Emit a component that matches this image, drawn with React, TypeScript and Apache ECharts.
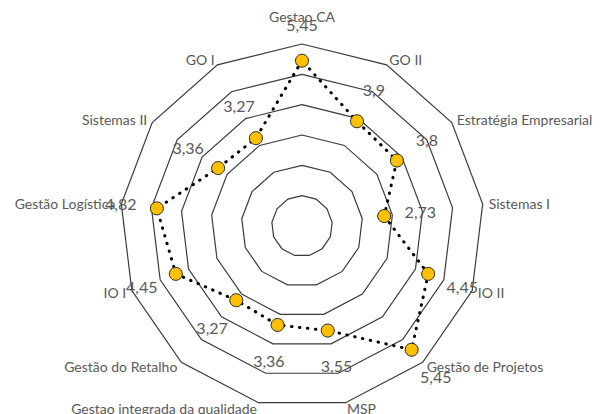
import React, { useEffect, useRef } from "react";
import * as echarts from "echarts";

// Indicators in reading (clockwise) order, starting at the top
const INDICATORS: string[] = [
  "Gestao CA",
  "GO II",
  "Estratégia Empresarial",
  "Sistemas I",
  "IO II",
  "Gestão de Projetos",
  "MSP",
  "Gestao integrada da qualidade",
  "Gestão do Retalho",
  "IO I",
  "Gestão Logística",
  "Sistemas II",
  "GO I",
];
const VALUES: number[] = [5.45, 3.9, 3.8, 2.73, 4.45, 5.45, 3.55, 3.36, 3.27, 4.45, 4.82, 3.36, 3.27];
const AXIS_MIN = 0;
const AXIS_MAX = 6;
const SPLITS = 6;
const LABEL_OFFSET = 1.2; // value labels sit this many units further out along each axis

const TEXT = "#595959";
const FONT = "Lato";

const fmt = (v: number) => String(Number(v.toFixed(2))).replace(".", ",");

export default function App() {
  const ref = useRef<HTMLDivElement>(null);
  useEffect(() => {
    if (!ref.current) return;
    const chart = echarts.init(ref.current, undefined, { renderer: "svg" });
    // ECharts places radar indicators counter-clockwise; reorder so the picture reads clockwise
    const order = [0, ...INDICATORS.map((_, i) => i).slice(1).reverse()];
    const option: any = {
      animation: false,
      backgroundColor: "#ffffff",
      radar: {
        center: [302, 226],
        radius: 182,
        startAngle: 90,
        shape: "polygon",
        splitNumber: SPLITS,
        nameGap: 6,
        indicator: order.map((i) => ({ name: INDICATORS[i], min: AXIS_MIN, max: AXIS_MAX })),
        axisName: {
          color: TEXT,
          fontFamily: FONT,
          fontSize: 14,
          formatter: (n: string) => (n === INDICATORS[0] ? `{top|${n}}` : n),
          rich: {
            top: { color: TEXT, fontFamily: FONT, fontSize: 14, padding: [0, 0, 15, 0] },
          },
        },
        splitLine: { lineStyle: { color: "#3a3a3a", width: 1.2 } },
        splitArea: { show: false },
        axisLine: { show: false },
        axisTick: { show: false },
        axisLabel: { show: false },
      },
      series: [
        {
          type: "radar",
          z: 3,
          symbol: "circle",
          symbolSize: 13,
          data: [{ value: order.map((i) => VALUES[i]) }],
          lineStyle: { color: "#000000", width: 3, type: [0.5, 7.5], cap: "round" },
          itemStyle: { color: "#FFC000", borderColor: "#262626", borderWidth: 1 },
          label: { show: false },
        },
        {
          type: "radar",
          z: 4,
          silent: true,
          symbol: "circle",
          symbolSize: 1,
          data: [{ value: order.map((i) => VALUES[i] + LABEL_OFFSET) }],
          lineStyle: { width: 0, opacity: 0 },
          itemStyle: { color: "rgba(0,0,0,0)" },
          label: {
            show: true,
            position: "inside",
            color: TEXT,
            fontFamily: FONT,
            fontSize: 16,
            formatter: (p: any) => {
              const v = Array.isArray(p.value) ? p.value[p.dimensionIndex ?? 0] : p.value;
              return fmt(Number(v) - LABEL_OFFSET);
            },
          },
        },
      ],
    };
    chart.setOption(option);
    return () => chart.dispose();
  }, []);
  return (
    <div
      ref={ref}
      style={{ position: "fixed", left: 0, top: 0, width: 600, height: 414 }}
    />
  );
}
